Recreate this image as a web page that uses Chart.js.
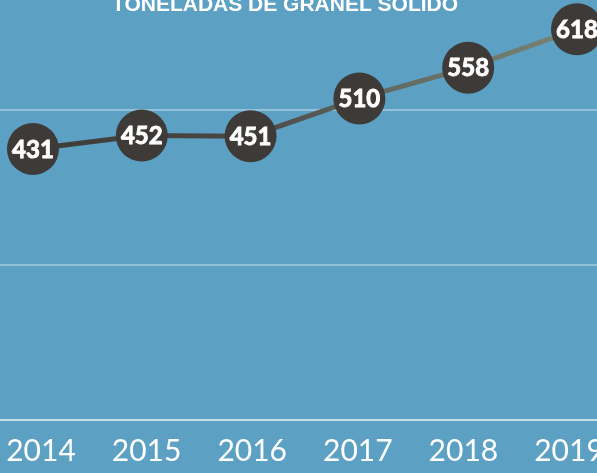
<!DOCTYPE html>
<html>
<head>
<meta charset="utf-8">
<script src="https://cdn.jsdelivr.net/npm/chart.js@4.4.1/dist/chart.umd.min.js"></script>
<style>
  html, body { margin: 0; padding: 0; background: #5ca0c3; }
  #wrap { width: 597px; height: 473px; position: relative; }
</style>
</head>
<body>
<div id="wrap"><canvas id="chart"></canvas></div>
<script>
// Data
const titleText = 'TONELADAS DE GRANEL SÓLIDO';
const years = [2014, 2015, 2016, 2017, 2018, 2019];
const tonnes = [431, 452, 451, 510, 558, 618];
// horizontal guide lines (value axis)
const gridValues = [249.5, 491.5];

const bgColor = '#5ca0c3';
const dotColor = '#3d3a38';

// Title sits partly above the canvas top, like the original
const titlePlugin = {
    id: 'cutTitle',
    afterDraw(chart) {
        const c = chart.ctx;
        c.save();
        c.font = 'bold 21px "Liberation Sans", Arial, sans-serif';
        c.fillStyle = '#ffffff';
        c.textAlign = 'center';
        c.textBaseline = 'alphabetic';
        c.fillText(titleText, 285, 11);
        c.restore();
    }
};

// Value labels inside the dots
const valueLabels = {
    id: 'valueLabels',
    afterDatasetsDraw(chart) {
        const c = chart.ctx;
        const meta = chart.getDatasetMeta(0);
        c.save();
        c.font = 'bold 24px Lato, sans-serif';
        c.fillStyle = '#ffffff';
        c.strokeStyle = '#ffffff';
        c.lineWidth = 0.9;
        c.textAlign = 'center';
        c.textBaseline = 'middle';
        meta.data.forEach((pt, i) => {
            c.fillText(String(tonnes[i]), pt.x, pt.y + 1);
            c.strokeText(String(tonnes[i]), pt.x, pt.y + 1);
        });
        c.restore();
    }
};

const bgPlugin = {
    id: 'bg',
    beforeDraw(chart) {
        const c = chart.ctx;
        c.save();
        c.fillStyle = bgColor;
        c.fillRect(0, 0, chart.width, chart.height);
        c.restore();
    }
};

function lineGradient(ctx) {
    const area = ctx.chart.chartArea;
    if (!area) return dotColor;
    const g = ctx.chart.ctx.createLinearGradient(area.left, 0, area.right, 0);
    g.addColorStop(0, '#3d3a38');
    g.addColorStop(0.42, '#4a4845');
    g.addColorStop(0.62, '#5f6760');
    g.addColorStop(1, '#7b8877');
    return g;
}

new Chart(document.getElementById('chart'), {
    type: 'line',
    data: {
        datasets: [{
            label: titleText,
            data: years.map((y, i) => ({ x: y, y: tonnes[i] })),
            xAxisID: 'x',
            borderColor: lineGradient,
            borderWidth: 5,
            backgroundColor: dotColor,
            pointBackgroundColor: dotColor,
            pointBorderColor: dotColor,
            pointBorderWidth: 0,
            pointRadius: 26,
            pointHoverRadius: 26,
            tension: 0,
            clip: false
        }]
    },
    options: {
        responsive: true,
        maintainAspectRatio: false,
        animation: false,
        layout: { padding: 0, autoPadding: false },
        scales: {
            // positions the dots
            x: {
                type: 'linear',
                display: false,
                min: 2013.697,
                max: 2019.184
            },
            // year labels along the bottom (spaced slightly tighter than the dots)
            years: {
                type: 'linear',
                position: 'bottom',
                min: 2013.612,
                max: 2019.265,
                afterBuildTicks: (s) => { s.ticks = years.map(v => ({ value: v })); },
                afterFit: (s) => { s.height = 53; s.paddingLeft = 0; s.paddingRight = 0; },
                ticks: {
                    autoSkip: false,
                    maxRotation: 0,
                    padding: 13,
                    color: '#ffffff',
                    font: { family: 'Lato', size: 30, weight: 'normal' },
                    callback: (v) => String(v)
                },
                grid: { display: false, drawTicks: false },
                border: { display: true, color: 'rgba(255,255,255,0.65)', width: 2 }
            },
            y: {
                min: 7.5,
                max: 663.75,
                afterBuildTicks: (s) => { s.ticks = gridValues.map(v => ({ value: v })); },
                afterFit: (s) => { s.width = 0; s.paddingTop = 0; s.paddingBottom = 0; },
                ticks: { display: false },
                grid: { color: 'rgba(255,255,255,0.35)', lineWidth: 2, drawTicks: false },
                border: { display: false }
            }
        },
        plugins: {
            legend: { display: false },
            tooltip: { enabled: false },
            title: { display: false }
        }
    },
    plugins: [bgPlugin, valueLabels, titlePlugin]
});
</script>
</body>
</html>
